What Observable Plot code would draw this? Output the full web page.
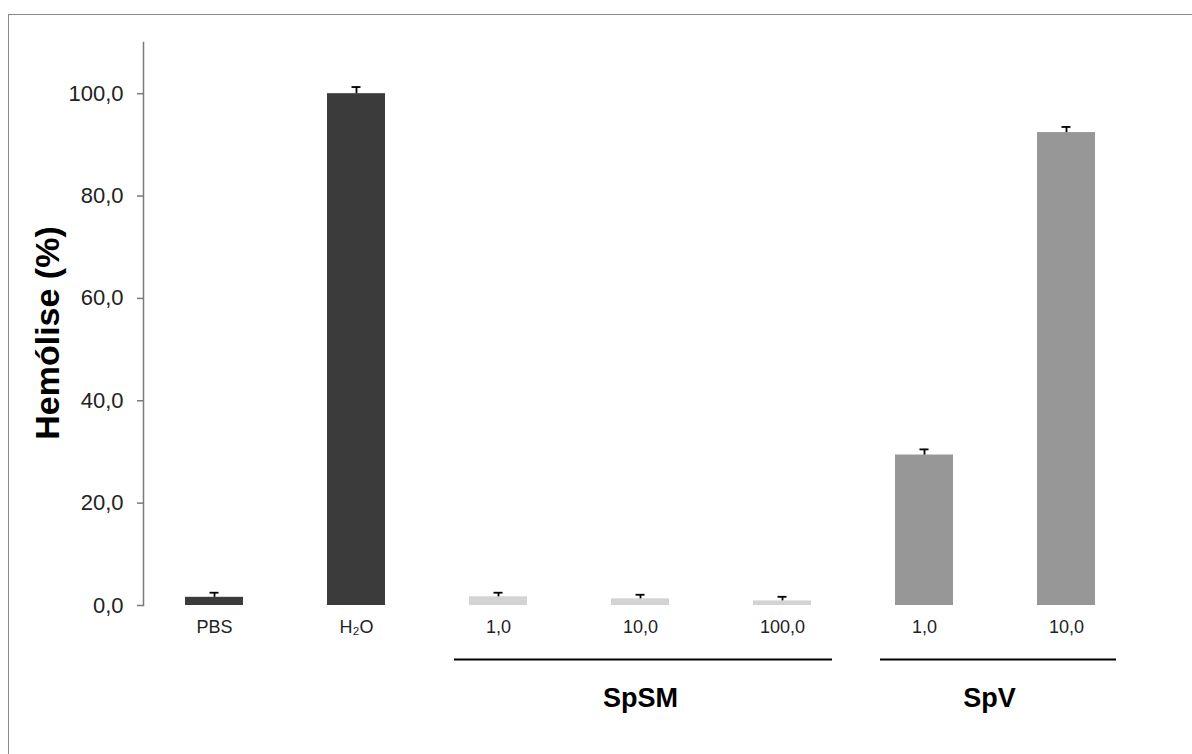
<!DOCTYPE html>
<html>
<head>
<meta charset="utf-8">
<script src="https://cdn.jsdelivr.net/npm/d3@7"></script>
<script src="https://cdn.jsdelivr.net/npm/@observablehq/plot@0.6"></script>
<style>
  html, body { margin: 0; padding: 0; background: #fff; }
  #wrap { position: relative; width: 1192px; height: 754px; overflow: hidden; }
  #box { position: absolute; left: 8px; top: 14px; width: 1300px; height: 900px;
         border-left: 1.5px solid #8a8a8a; border-top: 1.5px solid #8a8a8a; }
  #chart { position: absolute; left: 0; top: 0; }
  svg { font-family: "Liberation Sans", Arial, Helvetica, sans-serif; }
</style>
</head>
<body>
<div id="wrap"><div id="box"></div><div id="chart"></div></div>
<script>
const categories = ["PBS", "H2O", "SpSM 1,0", "SpSM 10,0", "SpSM 100,0", "SpV 1,0", "SpV 10,0"];
const tickLabels = ["PBS", "H₂O", "1,0", "10,0", "100,0", "1,0", "10,0"];
const groups = ["Controle", "Controle", "SpSM", "SpSM", "SpSM", "SpV", "SpV"];
const values = [1.6, 100.0, 1.7, 1.3, 0.9, 29.4, 92.4];
const errors = [0.9, 1.3, 0.8, 0.8, 0.8, 1.1, 1.1];
const yTicks = [0, 20, 40, 60, 80, 100];

const groupNames = ["SpSM", "SpV"];
const groupFirst = ["SpSM 1,0", "SpV 1,0"];
const groupLast = ["SpSM 100,0", "SpV 10,0"];

const rows = categories.map((c, i) => ({cat: c, group: groups[i], value: values[i], err: errors[i]}));
const groupRows = groupNames.map((g, i) => ({name: g, first: groupFirst[i], last: groupLast[i]}));
const labelOf = new Map(categories.map((c, i) => [c, tickLabels[i]]));
const fmt = d => d.toFixed(1).replace(".", ",");

const chart = Plot.plot({
  width: 1192,
  height: 754,
  marginLeft: 143,
  marginRight: 54,
  marginTop: 42,
  marginBottom: 149,
  style: {fontFamily: "'Liberation Sans', Arial, Helvetica, sans-serif", background: "transparent", color: "#222"},
  x: {domain: categories, paddingInner: 0.59, paddingOuter: 0.295, axis: null},
  y: {domain: [0, 110], axis: null},
  color: {domain: ["Controle", "SpSM", "SpV"], range: ["#3b3b3b", "#d3d3d3", "#979797"]},
  marks: [
    Plot.frame({anchor: "left", stroke: "#7a7a7a", strokeWidth: 1.5}),
    Plot.axisY({ticks: yTicks, tickFormat: fmt, tickSize: 6, tickPadding: 14, fontSize: 22, label: null, stroke: "#7a7a7a", strokeWidth: 1.5, fill: "#222"}),
    Plot.axisX({tickSize: 0, tickPadding: 15, fontSize: 18, label: null, tickFormat: d => labelOf.get(d), fill: "#222"}),
    Plot.barY(rows, {x: "cat", y: "value", fill: "group"}),
    Plot.ruleX(rows, {x: "cat", y1: "value", y2: d => d.value + d.err, stroke: "#000", strokeWidth: 1.8}),
    Plot.tickY(rows, {x: "cat", y: d => d.value + d.err, stroke: "#000", strokeWidth: 1.8, insetLeft: 24.5, insetRight: 24.5}),
    Plot.ruleY(groupRows, {x1: "first", x2: "last", y: () => 0, dy: 54, stroke: "#000", strokeWidth: 2, insetLeft: -15, insetRight: -21}),
    Plot.text(groupRows.slice(0, 1), {x: () => "SpSM 10,0", y: () => 0, text: "name", dy: 101, lineAnchor: "bottom", fontSize: 27, fontWeight: "bold", fill: "#000"}),
    Plot.text(groupRows.slice(1), {x: "first", y: () => 0, text: "name", dx: 65, dy: 101, lineAnchor: "bottom", fontSize: 27, fontWeight: "bold", fill: "#000"}),
    Plot.text(["Hemólise (%)"], {frameAnchor: "left", textAnchor: "middle", rotate: -90, dx: -95, dy: 9, fontSize: 34, fontWeight: "bold", fill: "#000"})
  ]
});
document.getElementById("chart").appendChild(chart);
</script>
</body>
</html>
